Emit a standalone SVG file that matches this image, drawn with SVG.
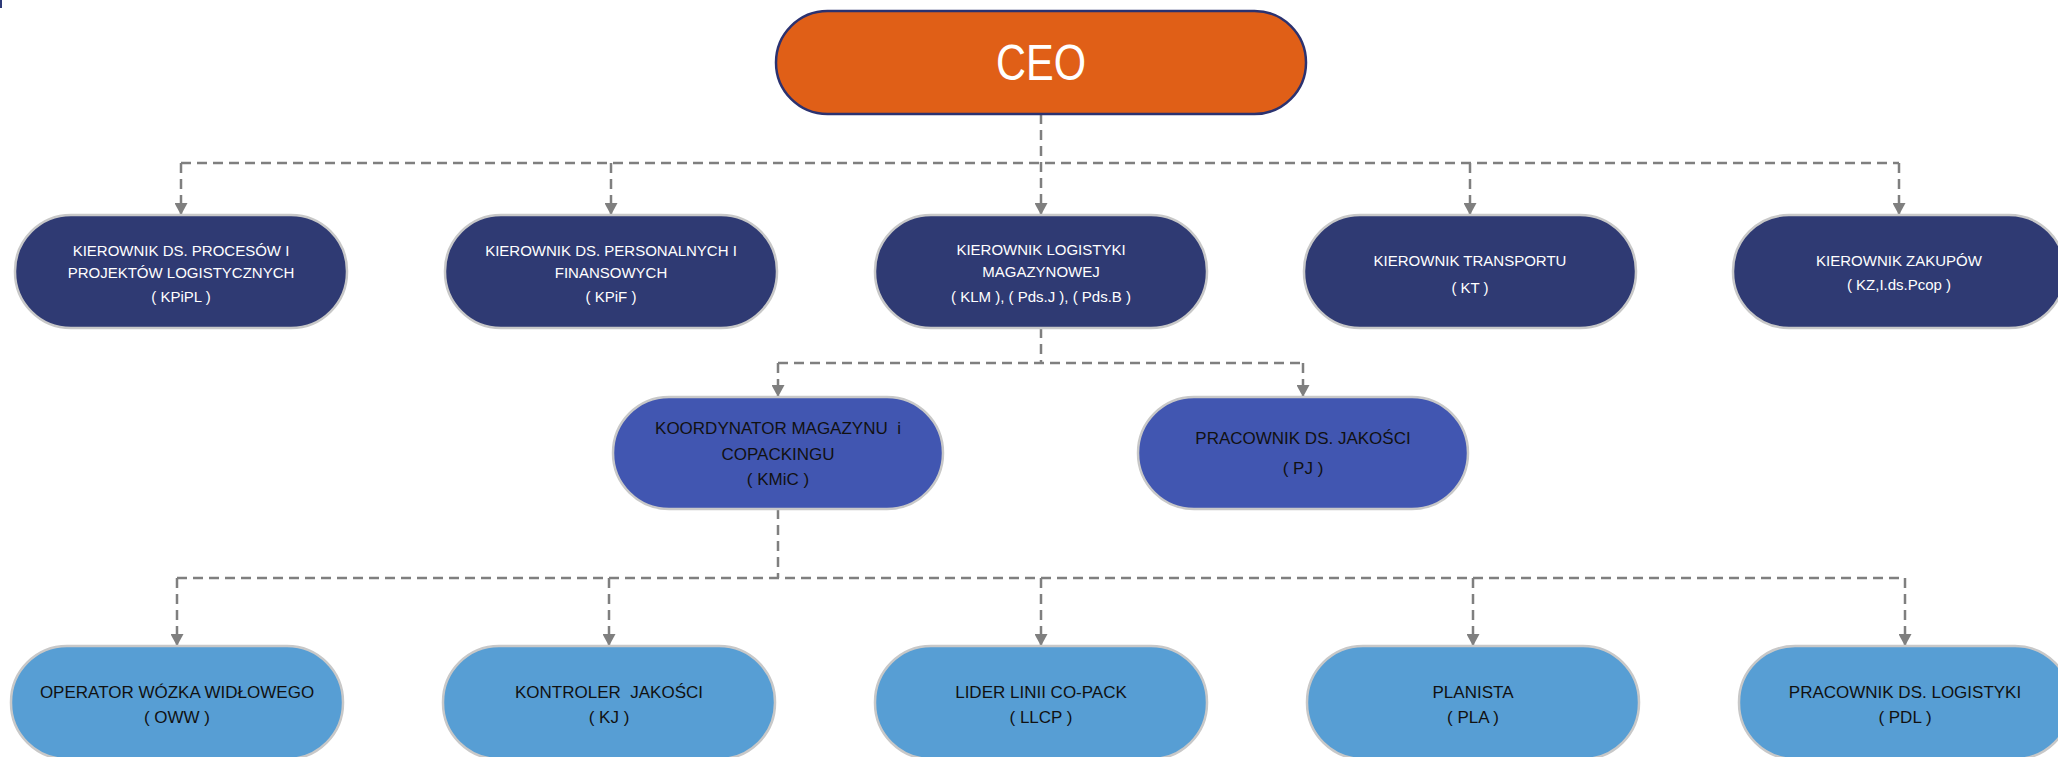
<svg xmlns="http://www.w3.org/2000/svg" width="2058" height="757" viewBox="0 0 2058 757">
  <style>
    .conn { fill: none; stroke: #7F7F7F; stroke-width: 2.5; stroke-dasharray: 10 6; }
    .ceo { fill: #E05F17; stroke: #2B3270; stroke-width: 2.5; }
    .l2 { fill: #2F3A73; stroke: #C8C8C8; stroke-width: 2.5; }
    .l3 { fill: #4156B1; stroke: #C8C8C8; stroke-width: 2.5; }
    .l4 { fill: #579ED4; stroke: #C8C8C8; stroke-width: 2.5; }
    text { font-family: "Liberation Sans", Arial, sans-serif; text-anchor: middle; }
    .tw { fill: #FFFFFF; font-size: 15px; }
    .tk { fill: #111111; font-size: 17px; }
  </style>
  <defs>
    <marker id="arr" viewBox="0 0 12 13" refX="12" refY="6.5" markerWidth="12" markerHeight="13" markerUnits="userSpaceOnUse" orient="auto">
      <path d="M0,0 L12,6.5 L0,13 z" fill="#7F7F7F"/>
    </marker>
  </defs>

  <rect x="0" y="0" width="2" height="8" fill="#2E3A78"/>

  <g id="connectors">
    <path class="conn" d="M1041,114 V215" marker-end="url(#arr)"/>
    <path class="conn" d="M181,163 H1899"/>
    <path class="conn" d="M181,163 V215" marker-end="url(#arr)"/>
    <path class="conn" d="M611,163 V215" marker-end="url(#arr)"/>
    <path class="conn" d="M1470,163 V215" marker-end="url(#arr)"/>
    <path class="conn" d="M1899,163 V215" marker-end="url(#arr)"/>

    <path class="conn" d="M1041,328 V363"/>
    <path class="conn" d="M778,363 H1303"/>
    <path class="conn" d="M778,363 V397" marker-end="url(#arr)"/>
    <path class="conn" d="M1303,363 V397" marker-end="url(#arr)"/>

    <path class="conn" d="M778,509 V578"/>
    <path class="conn" d="M177,578 H1905"/>
    <path class="conn" d="M177,578 V646" marker-end="url(#arr)"/>
    <path class="conn" d="M609,578 V646" marker-end="url(#arr)"/>
    <path class="conn" d="M1041,578 V646" marker-end="url(#arr)"/>
    <path class="conn" d="M1473,578 V646" marker-end="url(#arr)"/>
    <path class="conn" d="M1905,578 V646" marker-end="url(#arr)"/>
  </g>

  <g id="ceo">
    <rect class="ceo" x="776" y="11" width="530" height="103" rx="51.5"/>
    <text x="1041" y="80" fill="#FFFFFF" font-size="50" textLength="90" lengthAdjust="spacingAndGlyphs">CEO</text>
  </g>

  <g id="kpipl">
    <rect class="l2" x="15" y="215" width="332" height="113" rx="56"/>
    <text class="tw" x="181" y="256">KIEROWNIK DS. PROCESÓW I</text>
    <text class="tw" x="181" y="278">PROJEKTÓW LOGISTYCZNYCH</text>
    <text class="tw" x="181" y="302">( KPiPL )</text>
  </g>
  <g id="kpif">
    <rect class="l2" x="445" y="215" width="332" height="113" rx="56"/>
    <text class="tw" x="611" y="256">KIEROWNIK DS. PERSONALNYCH I</text>
    <text class="tw" x="611" y="278">FINANSOWYCH</text>
    <text class="tw" x="611" y="302">( KPiF )</text>
  </g>
  <g id="klm">
    <rect class="l2" x="875" y="215" width="332" height="113" rx="56"/>
    <text class="tw" x="1041" y="255">KIEROWNIK LOGISTYKI</text>
    <text class="tw" x="1041" y="277">MAGAZYNOWEJ</text>
    <text class="tw" x="1041" y="302" font-size="17.5">( KLM ), ( Pds.J ), ( Pds.B )</text>
  </g>
  <g id="kt">
    <rect class="l2" x="1304" y="215" width="332" height="113" rx="56"/>
    <text class="tw" x="1470" y="266">KIEROWNIK TRANSPORTU</text>
    <text class="tw" x="1470" y="293" font-size="19">( KT )</text>
  </g>
  <g id="kz">
    <rect class="l2" x="1733" y="215" width="332" height="113" rx="56"/>
    <text class="tw" x="1899" y="266">KIEROWNIK ZAKUPÓW</text>
    <text class="tw" x="1899" y="290" font-size="16">( KZ,I.ds.Pcop )</text>
  </g>

  <g id="kmic">
    <rect class="l3" x="613" y="397" width="330" height="112" rx="56"/>
    <text class="tk" x="778" y="434" font-size="17.5">KOORDYNATOR MAGAZYNU&#160; i</text>
    <text class="tk" x="778" y="460" font-size="17.5">COPACKINGU</text>
    <text class="tk" x="778" y="485" font-size="17.5">( KMiC )</text>
  </g>
  <g id="pj">
    <rect class="l3" x="1138" y="397" width="330" height="112" rx="56"/>
    <text class="tk" x="1303" y="444">PRACOWNIK DS. JAKOŚCI</text>
    <text class="tk" x="1303" y="474">( PJ )</text>
  </g>

  <g id="oww">
    <rect class="l4" x="11" y="646" width="332" height="113" rx="56"/>
    <text class="tk" x="177" y="698" font-size="17.4">OPERATOR WÓZKA WIDŁOWEGO</text>
    <text class="tk" x="177" y="723" font-size="17.4">( OWW )</text>
  </g>
  <g id="kj">
    <rect class="l4" x="443" y="646" width="332" height="113" rx="56"/>
    <text class="tk" x="609" y="698">KONTROLER&#160; JAKOŚCI</text>
    <text class="tk" x="609" y="723">( KJ )</text>
  </g>
  <g id="llcp">
    <rect class="l4" x="875" y="646" width="332" height="113" rx="56"/>
    <text class="tk" x="1041" y="698">LIDER LINII CO-PACK</text>
    <text class="tk" x="1041" y="723">( LLCP )</text>
  </g>
  <g id="pla">
    <rect class="l4" x="1307" y="646" width="332" height="113" rx="56"/>
    <text class="tk" x="1473" y="698">PLANISTA</text>
    <text class="tk" x="1473" y="723">( PLA )</text>
  </g>
  <g id="pdl">
    <rect class="l4" x="1739" y="646" width="332" height="113" rx="56"/>
    <text class="tk" x="1905" y="698">PRACOWNIK DS. LOGISTYKI</text>
    <text class="tk" x="1905" y="723">( PDL )</text>
  </g>
</svg>
